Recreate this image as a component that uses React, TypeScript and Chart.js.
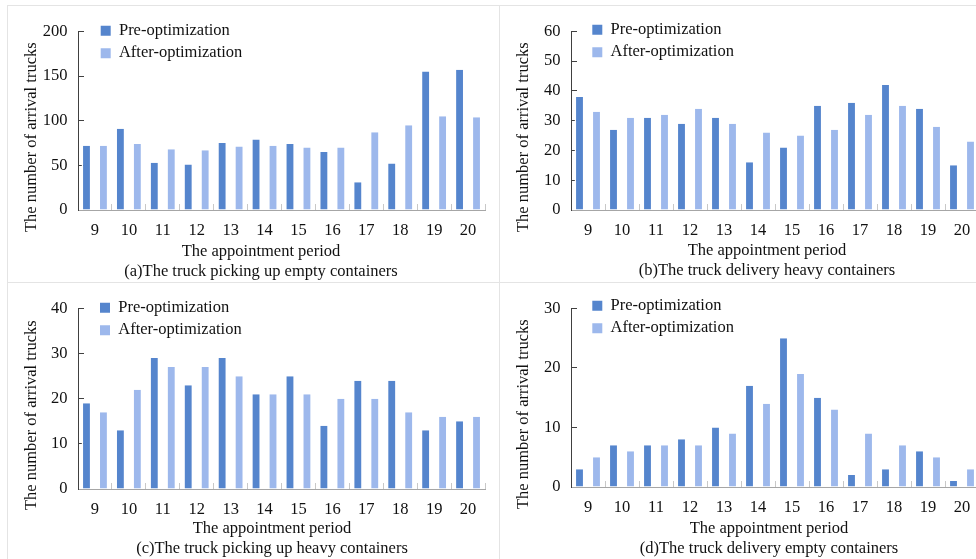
import React, { useEffect, useRef } from 'react';
import { Chart, registerables } from 'chart.js';

Chart.register(...registerables);

// ---------------- data ----------------
const categories = ['9', '10', '11', '12', '13', '14', '15', '16', '17', '18', '19', '20'];
const seriesNames = ['Pre-optimization', 'After-optimization'];

const emptyPickupPre = [72, 91, 53, 51, 75, 79, 74, 65, 31, 52, 155, 157];
const emptyPickupAfter = [72, 74, 68, 67, 71, 72, 70, 70, 87, 95, 105, 104];
const heavyDeliveryPre = [38, 27, 31, 29, 31, 16, 21, 35, 36, 42, 34, 15];
const heavyDeliveryAfter = [33, 31, 32, 34, 29, 26, 25, 27, 32, 35, 28, 23];
const heavyPickupPre = [19, 13, 29, 23, 29, 21, 25, 14, 24, 24, 13, 15];
const heavyPickupAfter = [17, 22, 27, 27, 25, 21, 21, 20, 20, 17, 16, 16];
const emptyDeliveryPre = [3, 7, 7, 8, 10, 17, 25, 15, 2, 3, 6, 1];
const emptyDeliveryAfter = [5, 6, 7, 7, 9, 14, 19, 13, 9, 7, 5, 3];

const yMaxes = [200, 60, 40, 30];
const ySteps = [50, 10, 10, 10];
const panelTitles = [
  '(a)The truck picking up empty containers',
  '(b)The truck delivery heavy containers',
  '(c)The truck picking up heavy containers',
  '(d)The truck delivery empty containers',
];
const xAxisTitle = 'The appointment period';
const yAxisTitle = 'The number of arrival trucks';

const panelSeries = [
  [emptyPickupPre, emptyPickupAfter],
  [heavyDeliveryPre, heavyDeliveryAfter],
  [heavyPickupPre, heavyPickupAfter],
  [emptyDeliveryPre, emptyDeliveryAfter],
];

// ---------------- styles / layout ----------------
const FONT = '"Liberation Serif", "Times New Roman", serif';
const FONT_SIZE = 16.5;
const TEXT = '#111111';
const colors = ['#5585CD', '#9DB8EC'];
const CH = 277;
// trailing spaces shift the rotated axis title down, as in the source figure
const Y_TITLE_SHIFT = '        ';

const layouts = [
  { left: 7, top: 5, w: 508, pt: 14, pb: 0.4, yw: 71, rw: 30, xh: 32, ldx: 16.7, ldy: -15 },
  { left: 499, top: 5, w: 536, pt: 17, pb: 1.4, yw: 72, rw: 56, xh: 31, ldx: 15.3, ldy: -16 },
  { left: 7, top: 282, w: 530, pt: 17, pb: 0.4, yw: 71, rw: 52, xh: 30, ldx: 16, ldy: -15 },
  { left: 499, top: 282, w: 540, pt: 16, pb: 0.4, yw: 72, rw: 60, xh: 32, ldx: 15.3, ldy: -17 },
];

function Panel({ index }: { index: number }) {
  const ref = useRef<HTMLCanvasElement | null>(null);
  useEffect(() => {
    if (!ref.current) return;
    const L = layouts[index];
    const font = { family: FONT, size: FONT_SIZE, weight: 'normal' as const, lineHeight: 1.2 };
    const legendPlacer = {
      id: 'legendPlacer',
      afterLayout(chart: any) {
        const lg = chart.legend;
        const ca = chart.chartArea;
        if (!lg || !ca) return;
        const w = lg.width;
        const h = lg.height;
        lg.left = ca.left + L.ldx;
        lg.top = ca.top + L.ldy;
        lg.right = lg.left + w;
        lg.bottom = lg.top + h;
      },
    };
    const chart = new Chart(ref.current, {
      type: 'bar',
      data: {
        labels: categories,
        datasets: panelSeries[index].map((vals, i) => ({
          label: seriesNames[i],
          data: vals,
          yAxisID: 'y',
          backgroundColor: colors[i],
          borderColor: '#ffffff',
          borderWidth: { left: 1.5, right: 1.5, top: 0, bottom: 0 },
          barPercentage: 0.58,
          categoryPercentage: 1,
        })),
      },
      options: {
        responsive: false,
        animation: false,
        devicePixelRatio: 1,
        layout: { padding: { left: 0, right: 0, top: L.pt, bottom: L.pb } },
        scales: {
          x: {
            grid: {
              display: true,
              drawOnChartArea: false,
              drawTicks: true,
              tickLength: -6,
              color: '#c8c8c8',
              offset: true,
            },
            border: { display: true, color: '#a6a6a6', width: 1 },
            ticks: { font, color: TEXT, padding: 17, maxRotation: 0, autoSkip: false },
            afterFit: (s: any) => { s.height = L.xh; },
          },
          y: {
            position: 'left',
            min: 0,
            max: yMaxes[index],
            ticks: { stepSize: ySteps[index], font, color: TEXT, padding: 16.5 },
            grid: {
              display: true,
              drawOnChartArea: false,
              drawTicks: true,
              tickLength: -6,
              color: '#404040',
            },
            border: { display: true, color: '#404040', width: 1 },
            title: { display: true, text: yAxisTitle + Y_TITLE_SHIFT, font, color: TEXT, padding: 15 },
            afterFit: (s: any) => { s.width = L.yw; },
          },
          yr: {
            type: 'linear',
            position: 'right',
            display: true,
            grid: { display: false },
            border: { display: false },
            ticks: { display: false },
            afterFit: (s: any) => { s.width = L.rw; },
          },
        },
        plugins: {
          legend: {
            display: true,
            position: 'chartArea',
            align: 'start',
            labels: {
              font,
              color: TEXT,
              boxWidth: 10,
              boxHeight: 10,
              padding: 6,
              generateLabels: (c: any) =>
                Chart.defaults.plugins.legend.labels.generateLabels(c).map((l: any) => ({ ...l, lineWidth: 0 })),
            },
          },
          title: { display: true, position: 'bottom', text: panelTitles[index], font, color: TEXT, padding: 0 },
          subtitle: { display: true, position: 'bottom', text: xAxisTitle, font, color: TEXT, padding: 0 },
          tooltip: { enabled: false },
        },
      } as any,
      plugins: [legendPlacer],
    });
    return () => chart.destroy();
  }, [index]);
  const L = layouts[index];
  return (
    <canvas
      ref={ref}
      width={L.w}
      height={CH}
      style={{ position: 'absolute', left: L.left, top: L.top, width: L.w, height: CH }}
    />
  );
}

const lineStyle = (l: number, t: number, w: number, h: number): React.CSSProperties => ({
  position: 'absolute', left: l, top: t, width: w, height: h, background: '#e4e4e4',
});

export default function App() {
  return (
    <div style={{ position: 'absolute', left: 0, top: 0, width: 976, height: 559, overflow: 'hidden', background: '#ffffff' }}>
      <div style={lineStyle(7, 5, 969, 1)} />
      <div style={lineStyle(7, 282, 969, 1)} />
      <div style={lineStyle(7, 5, 1, 554)} />
      <div style={lineStyle(499, 5, 1, 554)} />
      {[0, 1, 2, 3].map((i) => (
        <Panel key={i} index={i} />
      ))}
    </div>
  );
}
